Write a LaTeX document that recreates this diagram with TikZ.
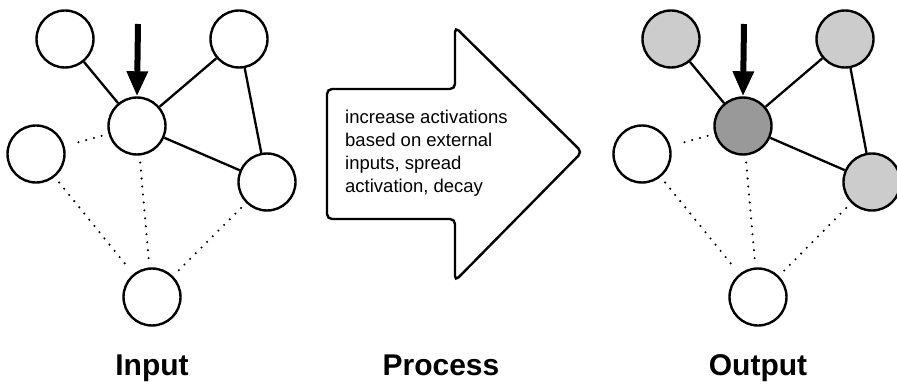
\documentclass[tikz,border=0pt]{standalone}
\usepackage{fontspec}
\setmainfont{Liberation Sans}
\usetikzlibrary{arrows.meta}
\definecolor{lightg}{HTML}{CCCCCC}
\definecolor{darkg}{HTML}{999999}
\begin{document}
\begin{tikzpicture}[x=1pt,y=-1pt,
  nd/.style={circle,draw=black,line width=2.4pt,minimum size=57pt,inner sep=0pt,fill=white},
  solidedge/.style={line width=2.3pt},
  dotedge/.style={line width=2.3pt,line cap=round,dash pattern=on 0pt off 8pt,shorten <=7pt,shorten >=7pt},
  inarrow/.style={line width=6pt,-{Triangle[length=25pt,width=20pt]}},
  lbl/.style={font=\fontsize{30}{34}\selectfont\bfseries,anchor=base},
  bigarrow/.style={draw=black,line width=2.4pt,rounded corners=5pt,fill=white}]
\useasboundingbox (0,0) rectangle (897,385);

% ---------- Input graph ----------
\node[nd] (a1) at (65,39) {};
\node[nd] (a2) at (239,39) {};
\node[nd] (a3) at (137,126) {};
\node[nd] (a4) at (36,154) {};
\node[nd] (a5) at (267,182) {};
\node[nd] (a6) at (152,297) {};
\draw[solidedge] (a1) -- (a3);
\draw[solidedge] (a2) -- (a3);
\draw[solidedge] (a3) -- (a5);
\draw[solidedge] (a2) -- (a5);
\draw[dotedge] (a3) -- (a4);
\draw[dotedge] (a3) -- (a6);
\draw[dotedge] (a4) -- (a6);
\draw[dotedge] (a5) -- (a6);
\coordinate (ia) at (138,24);
\draw[inarrow] (ia) -- (a3.north);

% ---------- Process arrow ----------
\draw[bigarrow] (327,89) -- (455,89) -- (455,27) -- (582,152) -- (455,281) -- (455,219) -- (327,219) -- cycle;
\node[anchor=north west,inner sep=0pt,align=left,font=\fontsize{18.5}{23}\selectfont] (ptext) at (345,109.5)
  {increase activations\\based on external\\inputs, spread\\activation, decay};

% ---------- Output graph ----------
\node[nd,fill=lightg] (b1) at (671,39) {};
\node[nd,fill=lightg] (b2) at (845,39) {};
\node[nd,fill=darkg] (b3) at (743,126) {};
\node[nd] (b4) at (642,154) {};
\node[nd,fill=lightg] (b5) at (872,182) {};
\node[nd] (b6) at (758,297) {};
\draw[solidedge] (b1) -- (b3);
\draw[solidedge] (b2) -- (b3);
\draw[solidedge] (b3) -- (b5);
\draw[solidedge] (b2) -- (b5);
\draw[dotedge] (b3) -- (b4);
\draw[dotedge] (b3) -- (b6);
\draw[dotedge] (b4) -- (b6);
\draw[dotedge] (b5) -- (b6);
\coordinate (oa) at (744,24);
\draw[inarrow] (oa) -- (b3.north);

% ---------- Labels ----------
\node[lbl] (lin) at (152,375) {Input};
\node[lbl] (lpr) at (441,375) {Process};
\node[lbl] (lout) at (758,375) {Output};
\end{tikzpicture}
\end{document}
